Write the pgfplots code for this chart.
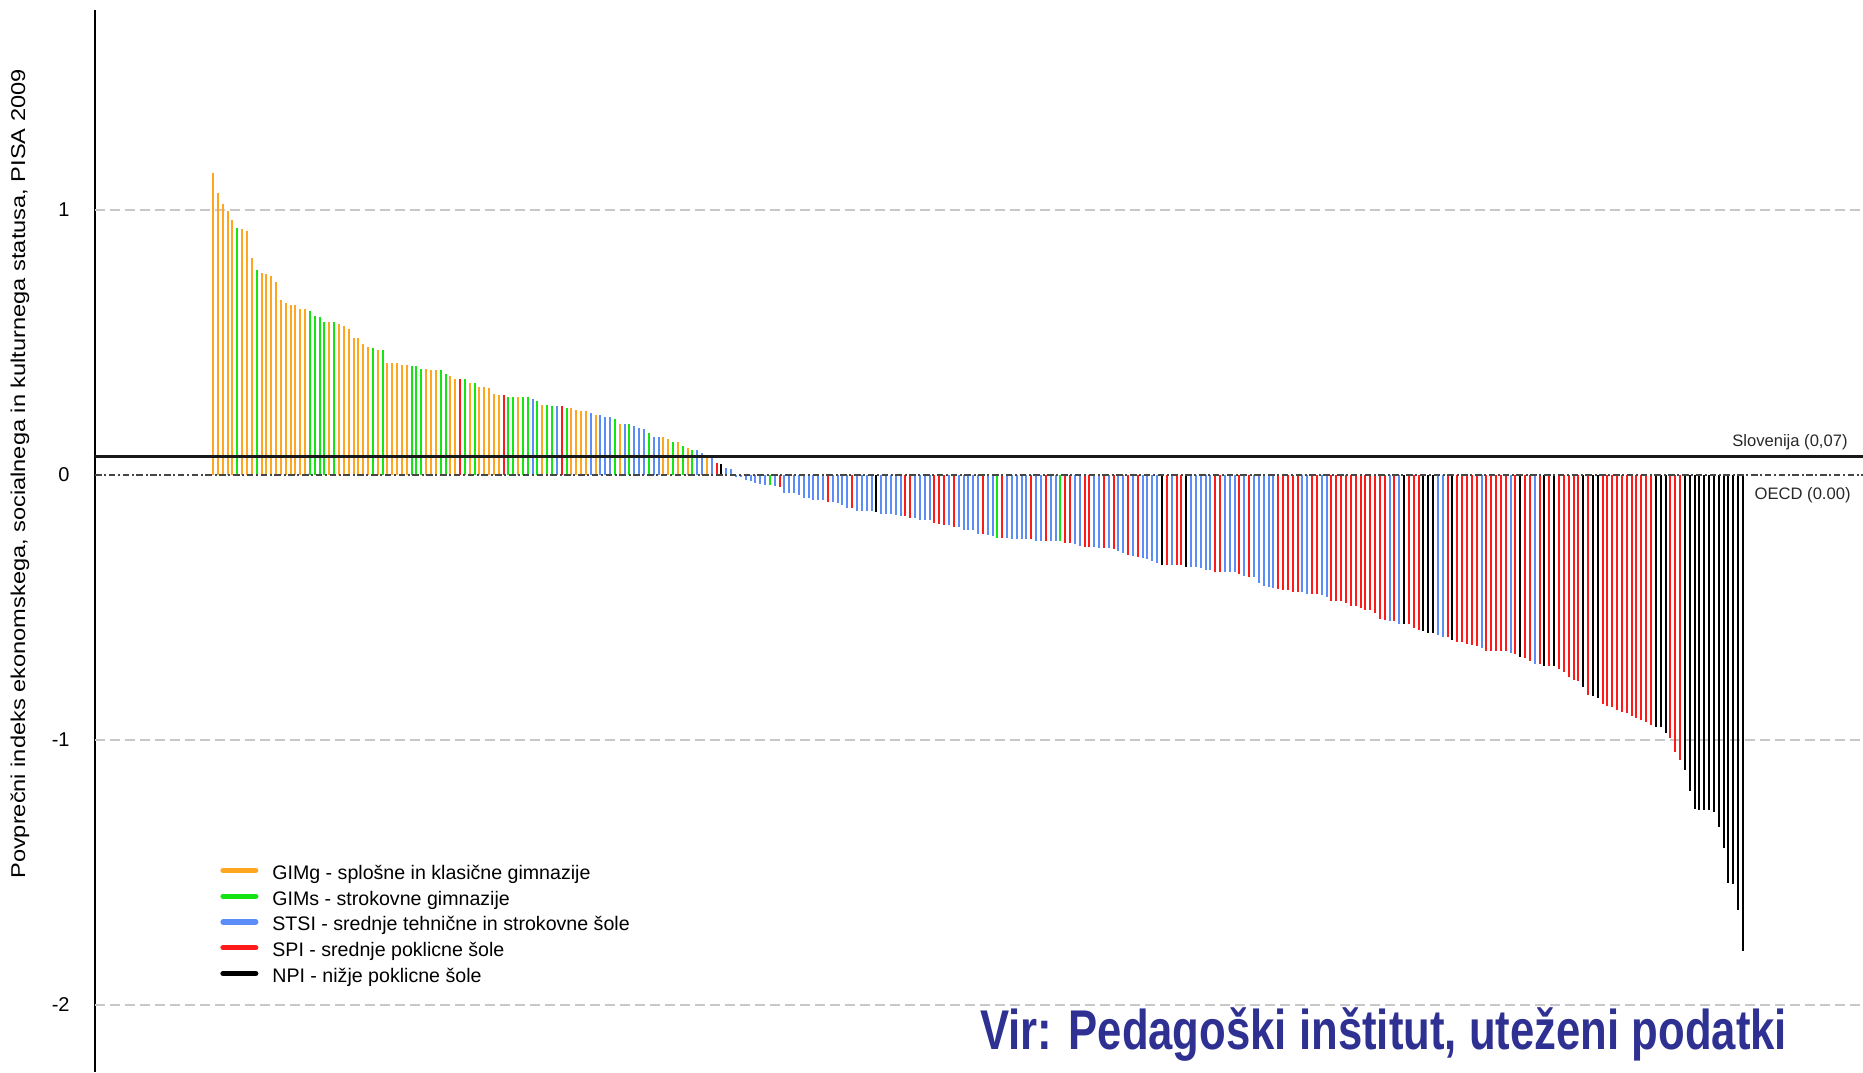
\documentclass[border=0pt]{standalone}
\usepackage{pgfplots}
\usepackage{pgfplotstable}
\pgfplotsset{compat=1.18}
\usepackage{fontspec}
\setmainfont{Liberation Sans}
\newfontfamily\ylabfont[FakeStretch=1.18]{Liberation Sans}
\newfontfamily\virfont[FakeStretch=0.78]{Liberation Sans}
\definecolor{cO}{RGB}{255,166,33}
\definecolor{cG}{RGB}{20,228,20}
\definecolor{cB}{RGB}{92,140,245}
\definecolor{cR}{RGB}{255,26,26}
\definecolor{cK}{RGB}{0,0,0}
\definecolor{virblue}{RGB}{46,49,146}
% g: 1 = GIMg (orange), 2 = GIMs (green), 3 = STSI (blue), 4 = SPI (red), 5 = NPI (black)
\pgfplotstableread{
x y g
1 1.139 1
2 1.063 1
3 1.024 1
4 0.997 1
5 0.962 1
6 0.933 2
7 0.928 1
8 0.922 1
9 0.820 1
10 0.772 2
11 0.763 1
12 0.758 1
13 0.750 1
14 0.729 1
15 0.662 1
16 0.649 1
17 0.642 1
18 0.642 1
19 0.627 1
20 0.627 1
21 0.620 2
22 0.602 2
23 0.595 2
24 0.579 2
25 0.579 1
26 0.579 2
27 0.571 1
28 0.561 1
29 0.552 1
30 0.518 1
31 0.518 1
32 0.493 1
33 0.484 1
34 0.478 2
35 0.471 1
36 0.470 2
37 0.424 1
38 0.424 1
39 0.424 1
40 0.416 1
41 0.416 1
42 0.410 2
43 0.410 2
44 0.402 2
45 0.402 1
46 0.396 1
47 0.396 1
48 0.396 2
49 0.381 2
50 0.375 1
51 0.362 1
52 0.362 4
53 0.362 2
54 0.348 1
55 0.348 2
56 0.334 1
57 0.334 1
58 0.328 1
59 0.306 1
60 0.301 1
61 0.301 4
62 0.294 2
63 0.294 2
64 0.294 1
65 0.294 2
66 0.294 2
67 0.288 3
68 0.280 2
69 0.266 1
70 0.266 2
71 0.260 2
72 0.260 3
73 0.260 4
74 0.253 2
75 0.253 1
76 0.246 1
77 0.240 1
78 0.240 1
79 0.233 3
80 0.227 1
81 0.227 3
82 0.219 3
83 0.219 3
84 0.212 2
85 0.193 1
86 0.193 3
87 0.193 2
88 0.185 3
89 0.178 3
90 0.172 3
91 0.157 2
92 0.144 3
93 0.144 3
94 0.144 1
95 0.136 1
96 0.123 2
97 0.123 1
98 0.110 2
99 0.103 1
100 0.096 2
101 0.096 3
102 0.082 3
103 0.067 1
104 0.067 3
105 0.045 4
106 0.042 5
107 0.026 3
108 0.021 3
109 -0.009 3
110 -0.009 3
111 -0.019 3
112 -0.024 3
113 -0.030 3
114 -0.035 3
115 -0.037 3
116 -0.037 2
117 -0.040 3
118 -0.044 4
119 -0.066 3
120 -0.066 3
121 -0.068 3
122 -0.076 3
123 -0.086 3
124 -0.088 3
125 -0.093 3
126 -0.093 3
127 -0.093 3
128 -0.100 4
129 -0.103 3
130 -0.107 3
131 -0.112 3
132 -0.126 3
133 -0.126 4
134 -0.134 3
135 -0.134 3
136 -0.134 3
137 -0.134 3
138 -0.141 5
139 -0.148 3
140 -0.148 3
141 -0.148 3
142 -0.149 3
143 -0.154 3
144 -0.156 4
145 -0.161 4
146 -0.161 3
147 -0.169 3
148 -0.169 3
149 -0.169 3
150 -0.182 4
151 -0.183 4
152 -0.189 4
153 -0.189 3
154 -0.195 4
155 -0.195 3
156 -0.209 3
157 -0.209 3
158 -0.209 3
159 -0.222 3
160 -0.222 4
161 -0.226 3
162 -0.231 3
163 -0.236 2
164 -0.236 4
165 -0.236 3
166 -0.242 3
167 -0.242 3
168 -0.242 3
169 -0.242 3
170 -0.242 4
171 -0.250 3
172 -0.250 3
173 -0.250 4
174 -0.250 3
175 -0.250 3
176 -0.250 2
177 -0.255 4
178 -0.257 4
179 -0.261 3
180 -0.267 3
181 -0.270 4
182 -0.271 4
183 -0.272 3
184 -0.275 3
185 -0.276 4
186 -0.276 3
187 -0.281 4
188 -0.288 3
189 -0.295 3
190 -0.303 4
191 -0.305 3
192 -0.310 4
193 -0.315 3
194 -0.318 3
195 -0.323 3
196 -0.333 3
197 -0.338 5
198 -0.338 4
199 -0.338 3
200 -0.339 4
201 -0.339 4
202 -0.346 5
203 -0.346 3
204 -0.346 3
205 -0.352 3
206 -0.358 3
207 -0.359 3
208 -0.366 4
209 -0.366 4
210 -0.366 3
211 -0.366 3
212 -0.366 3
213 -0.373 4
214 -0.381 3
215 -0.385 4
216 -0.386 3
217 -0.406 3
218 -0.419 3
219 -0.421 3
220 -0.428 3
221 -0.431 4
222 -0.434 4
223 -0.435 4
224 -0.441 4
225 -0.441 4
226 -0.441 3
227 -0.448 3
228 -0.448 4
229 -0.448 4
230 -0.452 3
231 -0.462 3
232 -0.475 4
233 -0.475 4
234 -0.475 4
235 -0.483 4
236 -0.494 4
237 -0.496 4
238 -0.503 4
239 -0.510 4
240 -0.510 4
241 -0.522 4
242 -0.545 4
243 -0.549 4
244 -0.552 3
245 -0.552 4
246 -0.563 3
247 -0.563 5
248 -0.563 4
249 -0.579 4
250 -0.584 4
251 -0.588 5
252 -0.595 5
253 -0.597 5
254 -0.602 3
255 -0.610 3
256 -0.613 4
257 -0.623 5
258 -0.629 4
259 -0.631 4
260 -0.637 4
261 -0.642 4
262 -0.646 4
263 -0.652 3
264 -0.665 4
265 -0.665 4
266 -0.665 4
267 -0.665 4
268 -0.666 4
269 -0.671 3
270 -0.677 4
271 -0.686 5
272 -0.692 4
273 -0.702 4
274 -0.714 3
275 -0.714 4
276 -0.719 5
277 -0.720 4
278 -0.721 5
279 -0.731 4
280 -0.742 4
281 -0.762 4
282 -0.774 4
283 -0.779 4
284 -0.801 5
285 -0.830 4
286 -0.835 5
287 -0.841 5
288 -0.864 4
289 -0.870 4
290 -0.877 4
291 -0.885 4
292 -0.893 4
293 -0.898 4
294 -0.911 4
295 -0.917 4
296 -0.926 4
297 -0.933 4
298 -0.942 4
299 -0.951 5
300 -0.952 5
301 -0.974 5
302 -0.993 4
303 -1.047 4
304 -1.075 4
305 -1.115 5
306 -1.191 5
307 -1.260 5
308 -1.264 5
309 -1.266 5
310 -1.266 5
311 -1.273 5
312 -1.327 5
313 -1.409 5
314 -1.541 5
315 -1.545 5
316 -1.640 5
317 -1.796 5
}\data
\begin{document}
\begin{tikzpicture}
\useasboundingbox (0,0) rectangle (931.5pt,536pt);
\begin{axis}[
  at={(47.5pt,0pt)}, anchor=south west,
  scale only axis, width=884pt, height=531pt,
  xmin=-23.4, xmax=341.8, ymin=-2.253, ymax=1.755,
  axis x line=none, axis y line*=left,
  y axis line style={line width=1pt, -},
  xtick=\empty,
  ytick={-2,-1,0,1}, yticklabels={-2,-1,0,1},
  major tick length=0pt,
  yticklabel style={font=\fontsize{10}{12}\selectfont, inner sep=0pt, anchor=east, xshift=-12.5pt},
  legend image code/.code={\draw[#1, line cap=round] (1.3pt,2pt) -- (17.7pt,2pt);},
  legend style={at={(0.0707,0.1959)}, anchor=north west, draw=none, fill=none,
    inner sep=0pt, row sep=2.9pt, column sep=7pt,
    nodes={inner sep=0pt, text height=7.5pt, text depth=2.5pt},
    font=\fontsize{9.8}{12}\selectfont},
  legend cell align=left,
]
% grid lines
\addplot[forget plot, color={rgb,255:red,200;green,200;blue,200}, line width=0.85pt, dash pattern=on 5pt off 2.5pt] coordinates {(-23.4,1) (341.8,1)};
\addplot[forget plot, color={rgb,255:red,200;green,200;blue,200}, line width=0.85pt, dash pattern=on 5pt off 2.5pt] coordinates {(-23.4,-1) (341.8,-1)};
\addplot[forget plot, color={rgb,255:red,200;green,200;blue,200}, line width=0.85pt, dash pattern=on 5pt off 2.5pt] coordinates {(-23.4,-2) (341.8,-2)};
% bars, one series per school type
\addplot[forget plot, ycomb, draw=cO, line width=1pt, restrict expr to domain={\thisrow{g}}{0.5:1.5}] table[x=x,y=y] {\data};
\addplot[forget plot, ycomb, draw=cG, line width=1pt, restrict expr to domain={\thisrow{g}}{1.5:2.5}] table[x=x,y=y] {\data};
\addplot[forget plot, ycomb, draw=cB, line width=1pt, restrict expr to domain={\thisrow{g}}{2.5:3.5}] table[x=x,y=y] {\data};
\addplot[forget plot, ycomb, draw=cR, line width=1pt, restrict expr to domain={\thisrow{g}}{3.5:4.5}] table[x=x,y=y] {\data};
\addplot[forget plot, ycomb, draw=cK, line width=1pt, restrict expr to domain={\thisrow{g}}{4.5:5.5}] table[x=x,y=y] {\data};
% reference lines
\addplot[forget plot, color={rgb,255:red,70;green,70;blue,70}, line width=0.7pt, dash pattern=on 3.3pt off 1.3pt on 1pt off 1.3pt] coordinates {(-23.4,0) (341.8,0)};
\addplot[forget plot, color={rgb,255:red,25;green,25;blue,25}, line width=1.7pt] coordinates {(-23.4,0.07) (341.8,0.07)};
% legend
\addlegendimage{cO, line width=2.6pt}
\addlegendentry{GIMg - splošne in klasične gimnazije}
\addlegendimage{cG, line width=2.6pt}
\addlegendentry{GIMs - strokovne gimnazije}
\addlegendimage{cB, line width=2.6pt}
\addlegendentry{STSI - srednje tehnične in strokovne šole}
\addlegendimage{cR, line width=2.6pt}
\addlegendentry{SPI - srednje poklicne šole}
\addlegendimage{cK, line width=2.6pt}
\addlegendentry{NPI - nižje poklicne šole}
\end{axis}
\node[rotate=90, inner sep=0pt, font=\ylabfont\fontsize{10}{12}\selectfont] at (10pt,299pt) {Povprečni indeks ekonomskega, socialnega in kulturnega statusa, PISA 2009};
\node[anchor=base east, inner sep=0pt, font=\fontsize{8.3}{10}\selectfont, text={rgb,255:red,40;green,40;blue,40}] at (924pt,312.6pt) {Slovenija (0,07)};
\node[anchor=base east, inner sep=0pt, font=\fontsize{8.3}{10}\selectfont, text={rgb,255:red,40;green,40;blue,40}] at (925.5pt,286pt) {OECD (0.00)};
\node[anchor=base west, inner sep=0pt, font=\virfont\bfseries\fontsize{28}{32}\selectfont, text=virblue] at (490pt,11.5pt) {Vir: Pedagoški inštitut, uteženi podatki};
\end{tikzpicture}
\end{document}
